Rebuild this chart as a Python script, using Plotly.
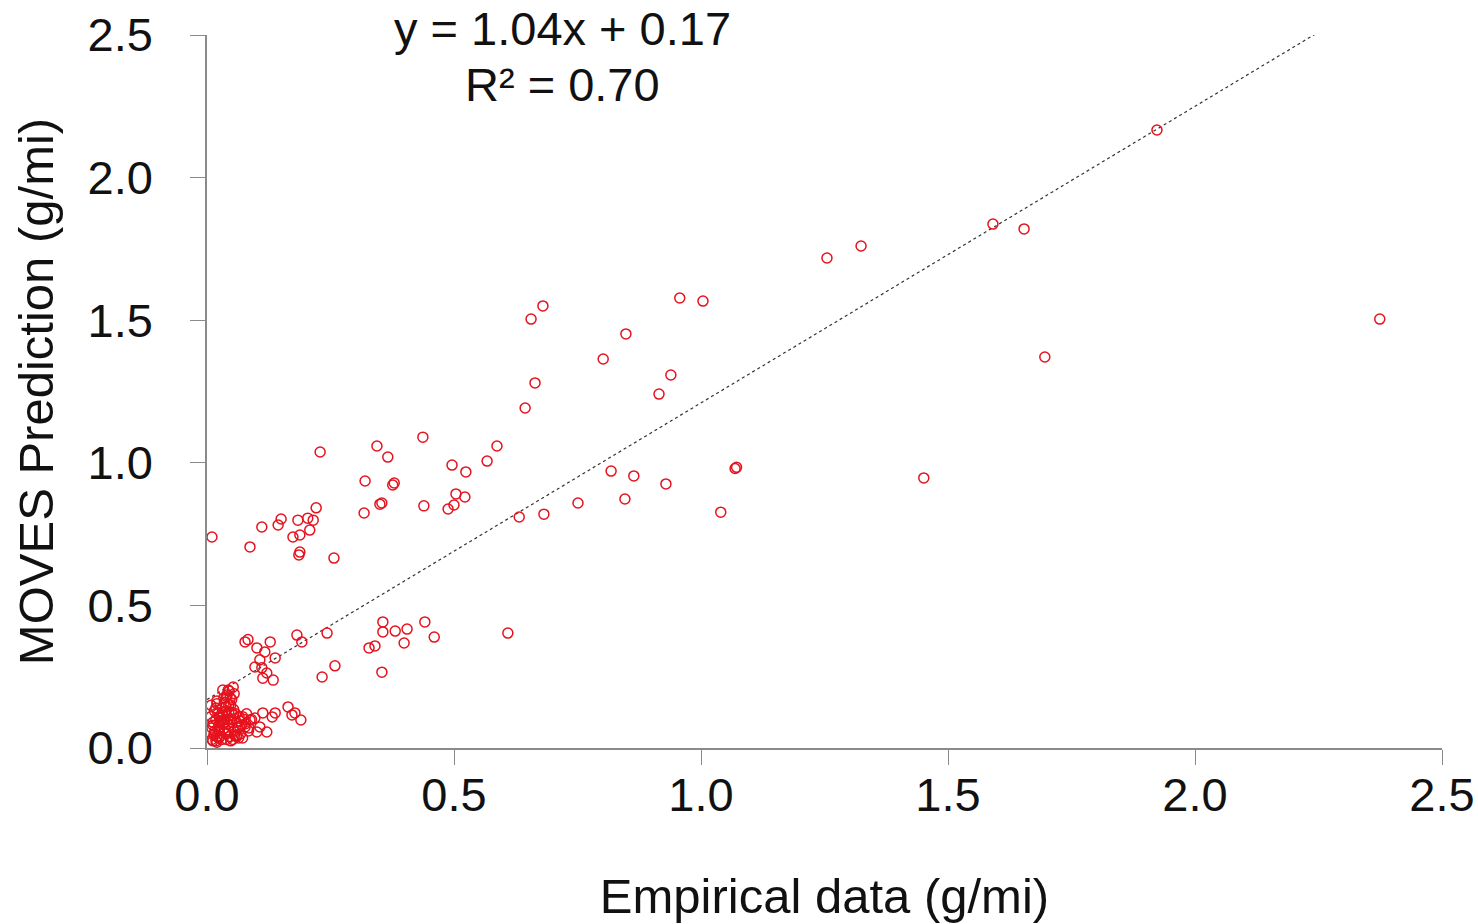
import plotly.graph_objects as go

# Empirical vs. MOVES-predicted emission rates (g/mi)
empirical = [
    1.923, 1.591, 1.654, 1.255, 1.324, 2.374, 1.696, 1.451, 1.069, 1.072, 1.040,
    0.957, 1.004, 0.848, 0.802, 0.939, 0.915, 0.818, 0.864, 0.846, 0.929, 0.751,
    0.680, 0.656, 0.664, 0.644, 0.587, 0.567, 0.682, 0.632, 0.609,
    0.344, 0.366, 0.437, 0.496, 0.524, 0.320, 0.379, 0.376, 0.354, 0.350, 0.318,
    0.439, 0.504, 0.522, 0.488, 0.500, 0.356, 0.356, 0.381, 0.405, 0.441, 0.460,
    0.399, 0.328, 0.340, 0.257, 0.354,
    0.229, 0.010, 0.087, 0.111, 0.150, 0.144, 0.184, 0.221, 0.204, 0.215, 0.208,
    0.174, 0.188, 0.188, 0.186, 0.259,
    0.077, 0.128, 0.101, 0.117, 0.138, 0.107, 0.097, 0.111, 0.121, 0.134, 0.113,
    0.182, 0.192, 0.243, 0.233, 0.083,
    0.043, 0.040, 0.047, 0.032, 0.053,
    0.164, 0.178, 0.190, 0.172, 0.113, 0.138, 0.132, 0.097, 0.107, 0.121, 0.101,
    0.087, 0.077,
    0.010, 0.015, 0.020, 0.025, 0.030, 0.012, 0.018, 0.022, 0.028, 0.035, 0.040,
    0.045, 0.050, 0.055, 0.060, 0.065, 0.070, 0.075, 0.080, 0.085, 0.090, 0.030,
    0.035, 0.040, 0.045, 0.050, 0.055, 0.038, 0.048, 0.025, 0.015, 0.010, 0.008,
    0.020, 0.040, 0.060, 0.030, 0.042, 0.058, 0.068, 0.012, 0.026, 0.034, 0.052,
    0.062, 0.072, 0.016, 0.044, 0.036, 0.024,
    0.014, 0.022, 0.032, 0.046, 0.054, 0.064, 0.018, 0.028, 0.038, 0.050, 0.066,
    0.078, 0.020, 0.034, 0.044, 0.056,
    0.012, 0.024, 0.036, 0.048, 0.060, 0.072, 0.084, 0.018, 0.030, 0.042, 0.054,
    0.066, 0.008, 0.020, 0.032, 0.044,
]
moves = [
    2.167, 1.837, 1.820, 1.718, 1.760, 1.504, 1.371, 0.947, 0.980, 0.984, 0.827,
    1.578, 1.567, 1.452, 1.364, 1.308, 1.241, 0.971, 0.954, 0.873, 0.926, 0.859,
    1.550, 1.504, 1.280, 1.192, 1.059, 1.006, 0.820, 0.810, 0.403,
    1.059, 1.020, 1.090, 0.992, 0.968, 0.936, 0.929, 0.922, 0.859, 0.855, 0.824,
    0.849, 0.891, 0.880, 0.838, 0.852, 0.442, 0.407, 0.410, 0.417, 0.442, 0.389,
    0.368, 0.351, 0.358, 0.666, 0.266,
    1.038, 0.740, 0.705, 0.775, 0.803, 0.782, 0.799, 0.842, 0.806, 0.799, 0.764,
    0.740, 0.747, 0.687, 0.677, 0.288,
    0.372, 0.372, 0.351, 0.337, 0.316, 0.309, 0.284, 0.281, 0.263, 0.238, 0.245,
    0.396, 0.372, 0.403, 0.249, 0.380,
    0.203, 0.186, 0.175, 0.203, 0.214,
    0.144, 0.123, 0.098, 0.116, 0.123, 0.123, 0.109, 0.105, 0.074, 0.056, 0.056,
    0.098, 0.074,
    0.030, 0.050, 0.040, 0.060, 0.030, 0.080, 0.100, 0.120, 0.090, 0.070, 0.050,
    0.080, 0.100, 0.060, 0.090, 0.110, 0.080, 0.100, 0.120, 0.070, 0.100, 0.140,
    0.160, 0.180, 0.200, 0.170, 0.190, 0.130, 0.150, 0.110, 0.130, 0.070, 0.110,
    0.020, 0.030, 0.040, 0.120, 0.100, 0.120, 0.050, 0.090, 0.040, 0.100, 0.030,
    0.070, 0.110, 0.060, 0.060, 0.090, 0.080,
    0.045, 0.065, 0.085, 0.040, 0.115, 0.035, 0.025, 0.095, 0.145, 0.125, 0.095,
    0.085, 0.155, 0.175, 0.125, 0.045,
    0.025, 0.035, 0.055, 0.025, 0.045, 0.035, 0.060, 0.140, 0.105, 0.085, 0.135,
    0.075, 0.150, 0.165, 0.115, 0.150,
]

# Linear fit reported on the chart
slope = 1.04
intercept = 0.17
r_squared = 0.70
fit_x = [0.0, 2.26]

tick_vals = [0.0, 0.5, 1.0, 1.5, 2.0, 2.5]
tick_text = ["0.0", "0.5", "1.0", "1.5", "2.0", "2.5"]

FONT = "Liberation Sans, Arial, sans-serif"
AXIS_GREY = "#8a8a8a"
RED = "rgb(230,18,30)"

fig = go.Figure()

fig.add_trace(go.Scatter(
    x=fit_x,
    y=[slope * v + intercept for v in fit_x],
    mode="lines",
    line=dict(color="#333333", width=1.2, dash="3px,3px"),
    cliponaxis=False,
    hoverinfo="skip",
    showlegend=False,
))

fig.add_trace(go.Scatter(
    x=empirical,
    y=moves,
    mode="markers",
    marker=dict(symbol="circle-open", size=10, color=RED,
                line=dict(width=1.5, color=RED)),
    cliponaxis=False,
    showlegend=False,
))

# Fit equation and R² above the plot
fig.add_annotation(
    x=0.719, y=1.0098, xref="x", yref="paper", yanchor="middle",
    text=f"y = {slope:.2f}x + {intercept:.2f}",
    showarrow=False, font=dict(family=FONT, size=47, color="#111111"),
)
fig.add_annotation(
    x=0.719, y=0.930, xref="x", yref="paper", yanchor="middle",
    text=f"R² = {r_squared:.2f}",
    showarrow=False, font=dict(family=FONT, size=47, color="#111111"),
)

axis_common = dict(
    range=[0, 2.5],
    tickvals=tick_vals,
    ticktext=tick_text,
    showgrid=False,
    zeroline=False,
    showline=True,
    linecolor=AXIS_GREY,
    linewidth=1.5,
    ticks="outside",
    ticklen=15,
    tickwidth=1.2,
    tickcolor=AXIS_GREY,
    automargin=False,
    tickfont=dict(family=FONT, size=47, color="#111111"),
)

fig.update_xaxes(
    **axis_common,
    ticklabelstandoff=-10,
    title=dict(text="Empirical data (g/mi)", standoff=59,
               font=dict(family=FONT, size=49, color="#111111")),
)
fig.update_yaxes(
    **axis_common,
    ticklabelstandoff=28,
    title=dict(text="MOVES Prediction (g/mi)", standoff=18,
               font=dict(family=FONT, size=49, color="#111111")),
)

fig.update_layout(
    width=1478,
    height=924,
    margin=dict(l=207, r=36, t=35, b=176),
    paper_bgcolor="white",
    plot_bgcolor="white",
    font=dict(family=FONT),
)

fig.write_html("out.html")
